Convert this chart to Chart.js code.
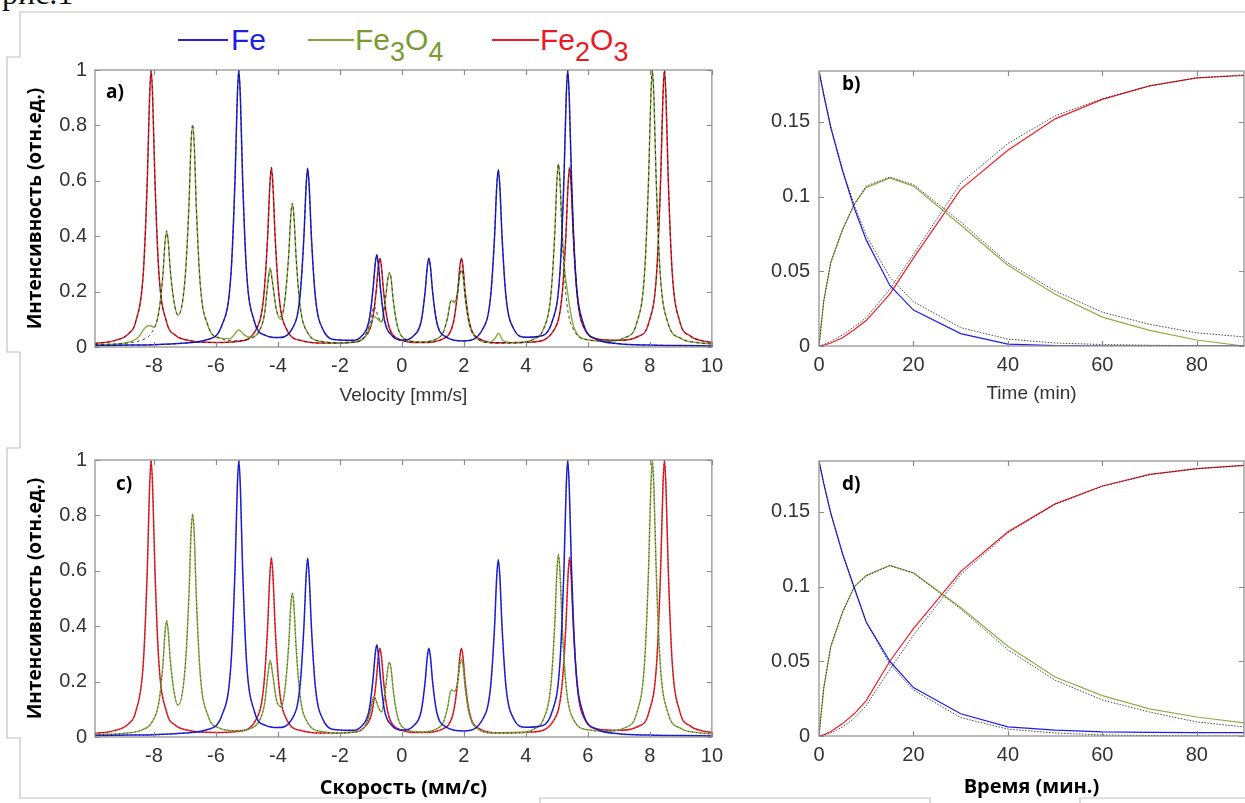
<!DOCTYPE html>
<html>
<head>
<meta charset="utf-8">
<script src="https://cdn.jsdelivr.net/npm/chart.js@4.4.1/dist/chart.umd.min.js"></script>
<style>
  body { margin: 0; background: #fff; width: 1245px; height: 803px; overflow: hidden; position: relative; font-family: "Liberation Sans", Arial, sans-serif; }
  canvas { position: absolute; }
  .lbl { position: absolute; font: bold 19px "Open Sans", sans-serif; line-height: 19px; color: #000; }
  .leg { position: absolute; top: 25px; font-size: 30px; line-height: 30px; }
  .leg sub { font-size: 0.9em; vertical-align: -0.4em; line-height: 0; }
  .legline { position: absolute; top: 39px; height: 1.5px; }
  #caption { position: absolute; left: 2px; top: -23px; font: 32px "Liberation Serif", serif; line-height: 32px; color: #111; }
  svg { position: absolute; left: 0; top: 0; }
</style>
</head>
<body>
<div id="caption">рис.1</div>
<svg width="1245" height="803">
  <polyline fill="none" stroke="#c4c4c4" stroke-width="1.2"
    points="1245,12 20,12 20,57 7,57 7,352 20,352 20,448 7,448 7,738 20,738 20,798 388,798"/>
  <polyline fill="none" stroke="#c4c4c4" stroke-width="1.2" points="540,803 540,798 930,798 930,803"/>
  <polyline fill="none" stroke="#c4c4c4" stroke-width="1.2" points="1080,803 1080,798 1245,798"/>
</svg>

<div class="legline" style="left:178px;width:50px;background:rgb(35,35,225)"></div>
<div class="leg" style="left:231px;color:rgb(30,30,230)">Fe</div>
<div class="legline" style="left:308px;width:46px;background:rgb(130,165,60)"></div>
<div class="leg" style="left:355px;color:rgb(120,155,50)">Fe<sub>3</sub>O<sub>4</sub></div>
<div class="legline" style="left:492px;width:47px;background:rgb(235,30,40)"></div>
<div class="leg" style="left:540px;color:rgb(235,25,35)">Fe<sub>2</sub>O<sub>3</sub></div>

<canvas id="chartA" width="730" height="360" style="left:0;top:50px"></canvas>
<canvas id="chartB" width="515" height="360" style="left:730px;top:50px"></canvas>
<canvas id="chartC" width="730" height="363" style="left:0;top:440px"></canvas>
<canvas id="chartD" width="515" height="363" style="left:730px;top:440px"></canvas>

<div class="lbl" style="left:106px;top:82px">a)</div>
<div class="lbl" style="left:842px;top:74px">b)</div>
<div class="lbl" style="left:116px;top:474px">c)</div>
<div class="lbl" style="left:842px;top:474px">d)</div>

<script>
// Mössbauer spectra, [velocity mm/s, relative intensity]
const feSpec = [[-9.9,0.005],[-8.8,0.007],[-8,0.008],[-7,0.014],[-6.3,0.026],[-5.8,0.08],[-5.51,0.27],[-5.38,0.615],[-5.31,0.9],[-5.26,1],[-5.21,0.9],[-5.14,0.615],[-5.01,0.27],[-4.76,0.093],[-4.4,0.042],[-4,0.034],[-3.54,0.066],[-3.29,0.18],[-3.16,0.4],[-3.09,0.58],[-3.04,0.645],[-2.99,0.58],[-2.92,0.4],[-2.79,0.18],[-2.54,0.062],[-2.1,0.026],[-1.6,0.024],[-1.31,0.038],[-1.06,0.095],[-0.93,0.21],[-0.86,0.3],[-0.81,0.333],[-0.76,0.3],[-0.69,0.21],[-0.56,0.095],[-0.31,0.04],[0.03,0.025],[0.37,0.04],[0.62,0.092],[0.75,0.2],[0.82,0.29],[0.87,0.32],[0.92,0.29],[0.99,0.2],[1.12,0.092],[1.37,0.04],[2,0.022],[2.61,0.065],[2.86,0.18],[2.99,0.4],[3.06,0.58],[3.11,0.64],[3.16,0.58],[3.23,0.4],[3.36,0.18],[3.61,0.065],[4,0.035],[4.4,0.038],[4.85,0.093],[5.1,0.27],[5.23,0.615],[5.3,0.9],[5.35,1],[5.4,0.9],[5.47,0.615],[5.6,0.27],[5.85,0.085],[6.3,0.028],[7,0.012],[8,0.007],[9,0.005],[10,0.004]];

const fe2o3Spec = [[-9.9,0.013],[-9.3,0.022],[-8.8,0.05],[-8.59,0.09],[-8.34,0.27],[-8.21,0.615],[-8.14,0.9],[-8.09,1],[-8.04,0.9],[-7.97,0.615],[-7.84,0.27],[-7.59,0.09],[-7.3,0.042],[-6.9,0.024],[-6,0.016],[-5.3,0.02],[-4.71,0.062],[-4.46,0.18],[-4.33,0.4],[-4.26,0.583],[-4.21,0.648],[-4.16,0.583],[-4.09,0.4],[-3.96,0.18],[-3.71,0.062],[-3.2,0.022],[-2.4,0.014],[-1.6,0.017],[-1.21,0.035],[-0.96,0.093],[-0.83,0.2],[-0.76,0.29],[-0.71,0.32],[-0.66,0.29],[-0.59,0.2],[-0.46,0.093],[-0.21,0.035],[0.6,0.016],[1.42,0.035],[1.67,0.093],[1.8,0.2],[1.87,0.29],[1.92,0.32],[1.97,0.29],[2.04,0.2],[2.17,0.093],[2.42,0.035],[3.2,0.015],[4.2,0.018],[4.91,0.062],[5.16,0.18],[5.29,0.4],[5.36,0.583],[5.41,0.648],[5.46,0.583],[5.53,0.4],[5.66,0.18],[5.91,0.062],[6.4,0.027],[7,0.024],[7.6,0.037],[7.97,0.09],[8.22,0.27],[8.35,0.615],[8.42,0.9],[8.47,1],[8.52,0.9],[8.59,0.615],[8.72,0.27],[8.97,0.09],[9.3,0.04],[9.7,0.022],[10,0.017]];

// Fe3O4, fitted shape (used for panel c and the fit lines)
const fe3o4Spec = [[-9.9,0.009],[-9,0.013],[-8.4,0.025],[-8.09,0.049],[-7.84,0.125],[-7.71,0.26],[-7.64,0.378],[-7.59,0.42],[-7.54,0.384],[-7.47,0.276],[-7.34,0.156],[-7.22,0.115],[-7,0.24],[-6.87,0.51],[-6.8,0.74],[-6.75,0.805],[-6.7,0.735],[-6.63,0.5],[-6.5,0.22],[-6.25,0.076],[-5.9,0.033],[-5.4,0.023],[-4.9,0.03],[-4.6,0.058],[-4.43,0.12],[-4.32,0.228],[-4.25,0.277],[-4.18,0.236],[-4.05,0.135],[-3.9,0.11],[-3.78,0.165],[-3.65,0.335],[-3.58,0.482],[-3.53,0.52],[-3.48,0.468],[-3.41,0.32],[-3.28,0.145],[-3.03,0.05],[-2.6,0.02],[-2,0.015],[-1.5,0.018],[-1.2,0.038],[-1.03,0.088],[-0.9,0.147],[-0.77,0.111],[-0.66,0.09],[-0.52,0.183],[-0.45,0.25],[-0.4,0.27],[-0.35,0.248],[-0.28,0.17],[-0.15,0.078],[0.1,0.029],[0.6,0.018],[1.1,0.028],[1.34,0.054],[1.47,0.104],[1.59,0.17],[1.7,0.165],[1.8,0.2],[1.87,0.262],[1.93,0.28],[1.98,0.25],[2.05,0.17],[2.18,0.08],[2.43,0.03],[3,0.014],[3.8,0.015],[4.3,0.031],[4.55,0.06],[4.8,0.18],[4.93,0.405],[5,0.595],[5.05,0.66],[5.1,0.595],[5.17,0.405],[5.3,0.18],[5.55,0.06],[6,0.026],[6.6,0.021],[7.2,0.034],[7.58,0.088],[7.83,0.27],[7.96,0.615],[8.03,0.9],[8.08,1],[8.13,0.9],[8.2,0.615],[8.33,0.27],[8.58,0.088],[9,0.031],[9.5,0.016],[10,0.011]];

// Fe3O4 measured in panel a (small extra bumps)
const fe3o4SpecA = [[-9.9,0.009],[-9,0.013],[-8.5,0.035],[-8.3,0.068],[-8.15,0.078],[-8,0.072],[-7.84,0.13],[-7.71,0.26],[-7.64,0.378],[-7.59,0.415],[-7.54,0.384],[-7.47,0.276],[-7.34,0.156],[-7.22,0.115],[-7,0.24],[-6.87,0.51],[-6.8,0.74],[-6.75,0.795],[-6.7,0.735],[-6.63,0.5],[-6.5,0.22],[-6.25,0.076],[-5.9,0.033],[-5.55,0.03],[-5.4,0.045],[-5.27,0.062],[-5.1,0.045],[-4.9,0.035],[-4.6,0.058],[-4.43,0.12],[-4.32,0.24],[-4.25,0.286],[-4.18,0.24],[-4.05,0.135],[-3.9,0.1],[-3.78,0.165],[-3.65,0.335],[-3.58,0.48],[-3.53,0.515],[-3.48,0.468],[-3.41,0.32],[-3.28,0.145],[-3.03,0.05],[-2.6,0.02],[-2,0.015],[-1.5,0.018],[-1.2,0.035],[-1.03,0.075],[-0.9,0.11],[-0.77,0.1],[-0.66,0.09],[-0.52,0.183],[-0.45,0.25],[-0.4,0.264],[-0.35,0.248],[-0.28,0.17],[-0.15,0.078],[0.1,0.029],[0.6,0.018],[1.1,0.028],[1.34,0.054],[1.47,0.104],[1.59,0.167],[1.7,0.16],[1.8,0.2],[1.87,0.262],[1.93,0.275],[1.98,0.25],[2.05,0.17],[2.18,0.08],[2.43,0.03],[2.8,0.016],[3,0.03],[3.12,0.05],[3.25,0.025],[3.6,0.015],[4.3,0.031],[4.55,0.06],[4.8,0.18],[4.93,0.405],[5,0.6],[5.05,0.662],[5.1,0.6],[5.17,0.42],[5.25,0.28],[5.33,0.21],[5.42,0.14],[5.55,0.07],[6,0.026],[6.6,0.021],[7.2,0.034],[7.58,0.088],[7.83,0.27],[7.96,0.615],[8.03,0.9],[8.08,1],[8.13,0.9],[8.2,0.615],[8.33,0.27],[8.58,0.088],[9,0.031],[9.5,0.016],[10,0.011]];

// Kinetics, time (min)
const timeMin = [0, 1, 2.5, 5, 7.5, 10, 15, 20, 30, 40, 50, 60, 70, 80, 90];

// panel b
const feB       = [0.184,0.168,0.146,0.117,0.092,0.071,0.0405,0.024,0.0083,0.0013,0.0003,0,0,0,0];
const feBFit    = [0.184,0.169,0.147,0.118,0.094,0.074,0.046,0.0296,0.0123,0.0046,0.002,0.001,0.0005,0.0002,0];
const fe3o4B    = [0,0.03,0.056,0.078,0.095,0.106,0.1125,0.107,0.081,0.054,0.0346,0.0193,0.0105,0.004,0];
const fe3o4BFit = [0,0.03,0.056,0.078,0.095,0.107,0.113,0.108,0.083,0.0555,0.0368,0.0226,0.0145,0.0088,0.0061];
const fe2o3B    = [0,0.0005,0.002,0.0055,0.011,0.017,0.0347,0.0588,0.1048,0.131,0.152,0.165,0.174,0.1794,0.181];
const fe2o3BFit = [0,0.001,0.003,0.0075,0.013,0.019,0.038,0.0614,0.109,0.1355,0.154,0.1655,0.174,0.1794,0.1815];

// panel d
const feD       = [0.184,0.169,0.149,0.122,0.099,0.0763,0.05,0.0324,0.0149,0.0061,0.0039,0.0028,0.0024,0.0022,0.0022];
const feDFit    = [0.184,0.169,0.149,0.121,0.098,0.076,0.048,0.0307,0.0123,0.0046,0.002,0.0007,0.0003,0.0001,0];
const fe3o4D    = [0,0.032,0.06,0.083,0.1,0.1075,0.1142,0.1092,0.086,0.06,0.0395,0.027,0.0182,0.0127,0.0088];
const fe3o4DFit = [0,0.032,0.06,0.083,0.1,0.107,0.114,0.109,0.085,0.0577,0.0373,0.0241,0.016,0.0094,0.0061];
const fe2o3D    = [0,0.0008,0.003,0.0083,0.015,0.0237,0.05,0.0719,0.11,0.1366,0.1553,0.1673,0.175,0.1789,0.1811];
const fe2o3DFit = [0,0.0005,0.002,0.006,0.012,0.0204,0.0445,0.0675,0.108,0.1358,0.155,0.167,0.1748,0.1788,0.181];

const BLUE = 'rgb(30,30,235)', GREEN = 'rgb(140,175,70)', RED = 'rgb(240,30,40)', FIT = '#1a1a1a';

const pts = arr => arr.map(([x, y]) => ({x, y}));
const zip = (t, v) => t.map((x, i) => ({x, y: v[i]}));

function line(data, color, extra) {
  return Object.assign({data, borderColor: color, borderWidth: 1.5, pointRadius: 0, fill: false, order: 1}, extra || {});
}
function fit(data, dash, w) {
  return line(data, FIT, {borderWidth: w || 0.8, borderDash: dash, order: 0});
}

// box frame + inward MATLAB-style ticks on all four sides
const boxTicks = {
  id: 'boxTicks',
  afterDatasetsDraw(chart) {
    const {ctx, chartArea: a, scales: {x, y}} = chart;
    ctx.save();
    ctx.strokeStyle = '#8a8a8a';
    ctx.lineWidth = 1.2;
    ctx.strokeRect(a.left, a.top, a.right - a.left, a.bottom - a.top);
    ctx.beginPath();
    x.ticks.forEach(t => {
      const px = Math.round(x.getPixelForValue(t.value)) + 0.5;
      ctx.moveTo(px, a.bottom); ctx.lineTo(px, a.bottom - 5);
      ctx.moveTo(px, a.top); ctx.lineTo(px, a.top + 5);
    });
    y.ticks.forEach(t => {
      const py = Math.round(y.getPixelForValue(t.value)) + 0.5;
      ctx.moveTo(a.left, py); ctx.lineTo(a.left + 5, py);
      ctx.moveTo(a.right, py); ctx.lineTo(a.right - 5, py);
    });
    ctx.stroke();
    ctx.restore();
  }
};

const tickFont = {family: '"Liberation Sans", Arial, sans-serif', size: 20};
const fmt = v => String(Math.round(v * 100) / 100);

function makeChart(el, datasets, o) {
  return new Chart(document.getElementById(el), {
    type: 'line',
    data: {datasets},
    plugins: [boxTicks],
    options: {
      responsive: false,
      animation: false,
      devicePixelRatio: 1,
      layout: {padding: {top: 16, right: o.right, left: 0, bottom: 0}},
      plugins: {legend: {display: false}, tooltip: {enabled: false}},
      elements: {line: {cubicInterpolationMode: o.smooth ? 'monotone' : 'default', tension: 0}},
      scales: {
        x: {
          type: 'linear', min: o.xmin, max: o.xmax,
          grid: {display: false, drawTicks: false}, border: {display: false},
          ticks: {stepSize: o.xstep, includeBounds: false, padding: 7, color: '#333', font: tickFont, maxRotation: 0, autoSkip: false, callback: fmt},
          title: {display: true, text: o.xtitle, color: o.xbold ? '#000' : '#333', font: o.xbold ? {family: '"Open Sans", sans-serif', size: 20, weight: 'bold'} : {family: '"Liberation Sans", Arial, sans-serif', size: 19}, padding: {top: 0, bottom: o.xtp}},
          afterFit: s => { s.height = o.xh; }
        },
        y: {
          min: 0, max: o.ymax,
          grid: {display: false, drawTicks: false}, border: {display: false},
          ticks: {stepSize: o.ystep, includeBounds: false, padding: o.ypad, color: '#333', font: tickFont, callback: fmt},
          title: {display: !!o.ytitle, text: o.ytitle, color: '#000', font: {family: '"Open Sans", sans-serif', size: 19, weight: 'bold'}, padding: {top: 24, bottom: 0}},
          afterFit: s => { s.width = o.yw; }
        }
      }
    }
  });
}

const yTitle = 'Интенсивность (отн.ед.)';

makeChart('chartA', [
  fit(pts(feSpec), [3, 3]), fit(pts(fe3o4Spec), [3, 3]), fit(pts(fe2o3Spec), [3, 3]),
  line(pts(feSpec), BLUE), line(pts(fe3o4SpecA), GREEN), line(pts(fe2o3Spec), RED)
], {smooth: true, xmin: -9.9, xmax: 10, xstep: 2, ymax: 1, ystep: 0.2, right: 12, xh: 63, yw: 95, ypad: 8, xtp: 3, xtitle: 'Velocity [mm/s]', ytitle: yTitle});

makeChart('chartC', [
  fit(pts(feSpec), [1, 3], 0.7), fit(pts(fe3o4Spec), [1, 3], 0.7), fit(pts(fe2o3Spec), [1, 3], 0.7),
  line(pts(feSpec), BLUE), line(pts(fe3o4Spec), GREEN), line(pts(fe2o3Spec), RED)
], {smooth: true, xmin: -9.9, xmax: 10, xstep: 2, ymax: 1, ystep: 0.2, right: 12, xh: 66, yw: 95, ypad: 8, xtp: 3, xbold: true, xtitle: 'Скорость (мм/с)', ytitle: yTitle});

makeChart('chartB', [
  fit(zip(timeMin, feBFit), [1.5, 1.5]), fit(zip(timeMin, fe3o4BFit), [1.5, 1.5]), fit(zip(timeMin, fe2o3BFit), [1.5, 1.5]),
  line(zip(timeMin, feB), BLUE, {borderWidth: 1.2}), line(zip(timeMin, fe3o4B), GREEN, {borderWidth: 1.2}), line(zip(timeMin, fe2o3B), RED, {borderWidth: 1.2})
], {smooth: false, xmin: 0, xmax: 90, xstep: 20, ymax: 0.184, ystep: 0.05, right: 1, xh: 64, yw: 89, ypad: 9, xtp: 5, xtitle: 'Time (min)'});

makeChart('chartD', [
  fit(zip(timeMin, feDFit), [1.5, 1.5]), fit(zip(timeMin, fe3o4DFit), [1.5, 1.5]), fit(zip(timeMin, fe2o3DFit), [1.5, 1.5]),
  line(zip(timeMin, feD), BLUE, {borderWidth: 1.2}), line(zip(timeMin, fe3o4D), GREEN, {borderWidth: 1.2}), line(zip(timeMin, fe2o3D), RED, {borderWidth: 1.2})
], {smooth: false, xmin: 0, xmax: 90, xstep: 20, ymax: 0.184, ystep: 0.05, right: 1, xh: 67, yw: 89, ypad: 9, xtp: 4, xbold: true, xtitle: 'Время (мин.)'});
</script>
</body>
</html>
